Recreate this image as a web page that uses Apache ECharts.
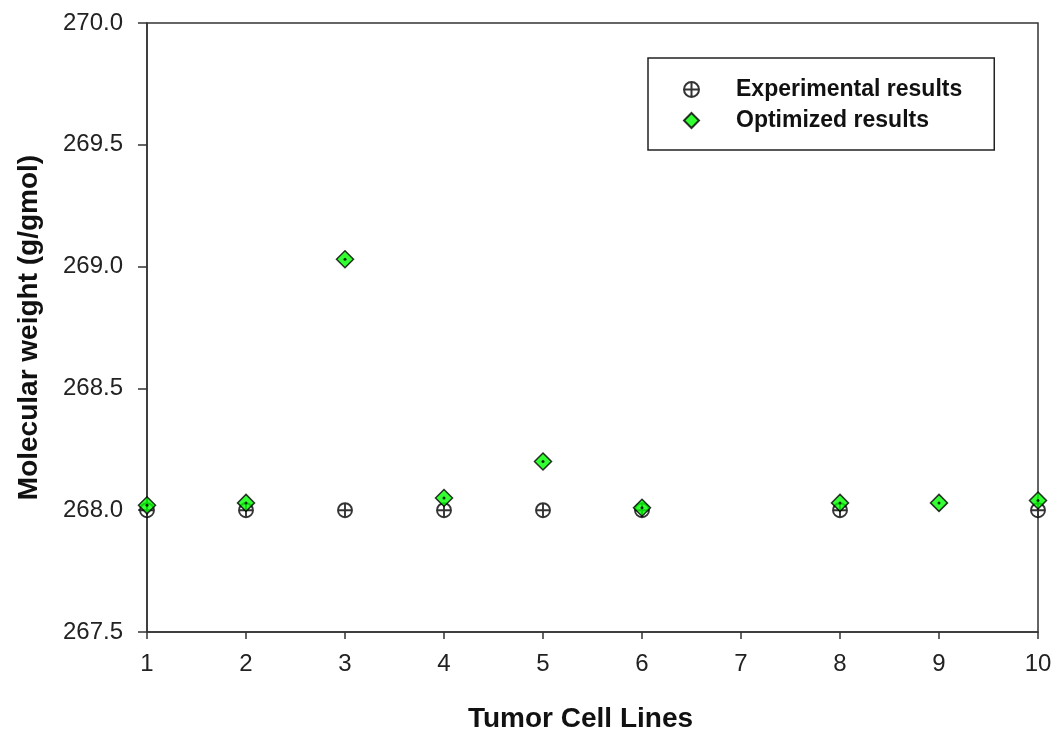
<!DOCTYPE html>
<html>
<head>
<meta charset="utf-8">
<script src="https://cdn.jsdelivr.net/npm/echarts@6/dist/echarts.min.js"></script>
<style>html,body{margin:0;padding:0;background:#fff}#c{width:1051px;height:732px}</style>
</head>
<body>
<div id="c"></div>
<script>
// Data
const cellLinesExp = [1, 2, 3, 4, 5, 6, 8, 10];
const experimental = [268.0, 268.0, 268.0, 268.0, 268.0, 268.0, 268.0, 268.0];
const cellLinesOpt = [1, 2, 3, 4, 5, 6, 8, 9, 10];
const optimized = [268.02, 268.03, 269.03, 268.05, 268.2, 268.01, 268.03, 268.03, 268.04];
const seriesNames = ['Experimental results', 'Optimized results'];

const expData = cellLinesExp.map((x, i) => [x, experimental[i]]);
const optData = cellLinesOpt.map((x, i) => [x, optimized[i]]);

const crossCircle = 'path://M0,-10 A10,10 0 1,1 0,10 A10,10 0 1,1 0,-10 Z M-10,0 L10,0 M0,-10 L0,10';
const font = 'Arial, "Liberation Sans", sans-serif';

const chart = echarts.init(document.getElementById('c'), null, {renderer: 'canvas'});
chart.setOption({
  animation: false,
  backgroundColor: '#fff',
  grid: {left: 147, right: 13, top: 23, bottom: 100, outerBoundsMode: 'none', containLabel: false,
         show: true, borderColor: '#333', borderWidth: 1.5, backgroundColor: 'transparent'},
  legend: {
    data: [
      {name: seriesNames[0], icon: crossCircle},
      {name: seriesNames[1], icon: 'diamond'}
    ],
    orient: 'vertical',
    left: 648, top: 58,
    padding: [20, 32, 18, 35],
    itemWidth: 15, itemHeight: 15,
    itemGap: 8,
    backgroundColor: '#fff',
    borderColor: '#222', borderWidth: 1.5,
    textStyle: {fontFamily: font, fontSize: 23, fontWeight: 'bold', color: '#111', padding: [0, 0, 0, 32]}
  },
  xAxis: {
    type: 'value', min: 1, max: 10, interval: 1,
    name: 'Tumor Cell Lines', nameLocation: 'middle', nameGap: 73,
    nameTextStyle: {fontFamily: font, fontSize: 28, fontWeight: 'bold', color: '#111', padding: [0, 24, 0, 0]},
    axisLine: {show: true, lineStyle: {color: '#333', width: 1.5}},
    axisTick: {show: true, inside: false, length: 7, lineStyle: {color: '#333', width: 1.5}},
    axisLabel: {fontFamily: font, fontSize: 24, color: '#222', margin: 20},
    splitLine: {show: false}
  },
  yAxis: {
    type: 'value', min: 267.5, max: 270.0, interval: 0.5,
    name: 'Molecular weight (g/gmol)', nameLocation: 'middle', nameGap: 104,
    nameTextStyle: {fontFamily: font, fontSize: 28, fontWeight: 'bold', color: '#111'},
    axisLine: {show: true, lineStyle: {color: '#333', width: 1.5}},
    axisTick: {show: true, inside: false, length: 9, lineStyle: {color: '#333', width: 1.5}},
    axisLabel: {fontFamily: font, fontSize: 24, color: '#222', margin: 24, formatter: v => v.toFixed(1)},
    splitLine: {show: false}
  },
  series: [
    {
      name: seriesNames[0], type: 'scatter', data: expData,
      symbol: crossCircle, symbolSize: 14,
      itemStyle: {color: '#fff', borderColor: '#000', borderWidth: 1.9},
      z: 2
    },
    {
      name: seriesNames[1], type: 'scatter', data: optData,
      symbol: 'diamond', symbolSize: 17,
      itemStyle: {color: '#00ff00', borderColor: '#000', borderWidth: 1.5},
      z: 3
    },
    {
      name: 'optDot', type: 'scatter', data: optData,
      symbol: 'circle', symbolSize: 3, silent: true,
      itemStyle: {color: '#000'},
      z: 4
    }
  ]
});
</script>
</body>
</html>
